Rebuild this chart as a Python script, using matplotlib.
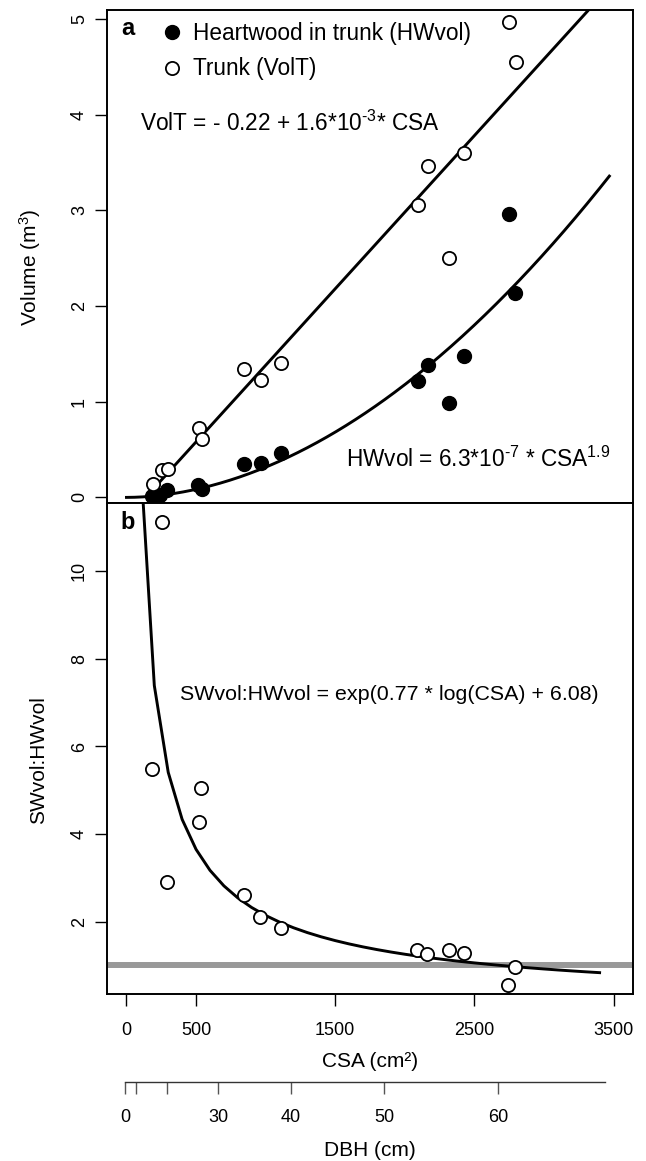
import numpy as np
import matplotlib
matplotlib.use("Agg")
import matplotlib.pyplot as plt

plt.rcParams['font.family'] = ['Liberation Sans', 'DejaVu Sans']
plt.rcParams['mathtext.fontset'] = 'custom'
plt.rcParams['mathtext.rm'] = 'Liberation Sans'
plt.rcParams['mathtext.it'] = 'Liberation Sans:italic'
plt.rcParams['mathtext.bf'] = 'Liberation Sans:bold'

# ---------------- data ----------------
csa_trunk = [189, 254, 301, 521, 540, 844, 966, 1114, 2093, 2165, 2320, 2428, 2746, 2799]
vol_trunk = [0.14, 0.29, 0.30, 0.72, 0.61, 1.34, 1.23, 1.40, 3.06, 3.46, 2.50, 3.60, 4.97, 4.55]

csa_hw = [182, 242, 289, 514, 540, 844, 966, 1114, 2093, 2165, 2320, 2428, 2746, 2794]
vol_hw = [0.015, 0.025, 0.077, 0.13, 0.09, 0.35, 0.36, 0.46, 1.22, 1.38, 0.99, 1.48, 2.96, 2.14]

csa_ratio = [186, 254, 290, 535, 522, 841, 961, 1108, 2086, 2161, 2318, 2423, 2742, 2794]
sw_hw_ratio = [5.48, 11.13, 2.90, 5.04, 4.28, 2.61, 2.11, 1.85, 1.35, 1.26, 1.35, 1.28, 0.55, 0.97]

# fitted models
volt_a, volt_b = -0.22, 1.6e-3
hw_a, hw_b = 6.3e-7, 1.9
ratio_slope, ratio_int = -0.77, 6.08
ratio_ref = 1.0

vol_ticks = [0, 1, 2, 3, 4, 5]
ratio_ticks = [2, 4, 6, 8, 10]
csa_ticks = [0, 500, 1500, 2500, 3500]
dbh_ticks = [0, 10, 20, 30, 40, 50, 60]
dbh_labels = ['0', '', '', '30', '40', '50', '60']
dbh_max = 68
csa_per_dbh2, csa_offset = 0.745, -9.3   # DBH -> CSA position on the secondary scale

# ---------------- layout ----------------
W, H = 646, 1161
fig = plt.figure(figsize=(W / 100, H / 100), dpi=100)


def rect(l, t, r, b):
    return [l / W, 1 - b / H, (r - l) / W, (b - t) / H]


xlim = (-140, 3640)
axa = fig.add_axes(rect(107, 10, 633, 503))
axb = fig.add_axes(rect(107, 503, 633, 994.3))
axd = fig.add_axes(rect(107, 1062, 633, 1082))

for ax in (axa, axb):
    for s in ax.spines.values():
        s.set_linewidth(1.4)
    ax.set_xlim(*xlim)

# ---------------- panel a ----------------
axa.set_ylim(-0.0585, 5.093)
axa.set_xticks([])
axa.set_yticks(vol_ticks)
axa.set_yticklabels([str(v) for v in vol_ticks])
axa.tick_params(axis='y', direction='out', length=8.6, width=1.0, labelsize=13, pad=5)
for lbl in axa.get_yticklabels():
    lbl.set_rotation(90)
    lbl.set_va('center')

xs = np.linspace(min(csa_trunk), 3500, 100)
axa.plot(xs, volt_a + volt_b * xs, color='black', lw=2.1, zorder=2)
xh = np.linspace(0, 3470, 300)
axa.plot(xh, hw_a * xh ** hw_b, color='black', lw=2.1, zorder=2)

h_hw, = axa.plot(csa_hw, vol_hw, 'o', ls='none', mfc='black', mec='black', ms=10, mew=1.0,
                 zorder=3, label='Heartwood in trunk (HWvol)')
h_tr, = axa.plot(csa_trunk, vol_trunk, 'o', ls='none', mfc='white', mec='black', ms=9.5, mew=1.3,
                 zorder=4, label='Trunk (VolT)')

axa.legend(handles=[h_hw, h_tr], loc='upper left', bbox_to_anchor=(0.1015, 0.9757),
           frameon=False, fontsize=16.3, handlelength=1.0, handletextpad=0.45,
           labelspacing=0.55, borderpad=0, borderaxespad=0)

axa.text(99, 3.83, r'VolT = - 0.22 + 1.6*10$^{\text{-3}}$* CSA', fontsize=16.3,
         ha='left', va='baseline')
axa.text(1580, 0.32, r'HWvol = 6.3*10$^{\text{-7}}$ * CSA$^{1.9}$', fontsize=16.3,
         ha='left', va='baseline')
axa.text(0.039, 0.9615, 'a', transform=axa.transAxes, fontsize=17, fontweight='bold',
         ha='center', va='center')

axa.set_ylabel('Volume (m$^3$)', fontsize=15)
axa.yaxis.set_label_coords(-0.121, 0.478)

# ---------------- panel b ----------------
axb.set_ylim(0.34, 11.56)
axb.set_yticks(ratio_ticks)
axb.set_yticklabels([str(v) for v in ratio_ticks])
axb.set_xticks(csa_ticks)
axb.set_xticklabels([str(v) for v in csa_ticks])
axb.tick_params(axis='y', direction='out', length=8.6, width=1.0, labelsize=13, pad=5)
axb.tick_params(axis='x', direction='out', length=8.6, width=1.0, labelsize=13, pad=11.5)
for lbl in axb.get_yticklabels():
    lbl.set_rotation(90)
    lbl.set_va('center')

axb.axhline(ratio_ref, color='#999999', lw=4.3, zorder=1)
xr = np.arange(100, 3500, 100)
axb.plot(xr, np.exp(ratio_slope * np.log(xr) + ratio_int), color='black', lw=2.1, zorder=2)
axb.plot(csa_ratio, sw_hw_ratio, 'o', ls='none', mfc='white', mec='black', ms=9.5, mew=1.3, zorder=3)

axb.text(385, 7.05, 'SWvol:HWvol = exp(0.77 * log(CSA) + 6.08)', fontsize=15.4,
         ha='left', va='baseline')
axb.text(0.040, 0.9593, 'b', transform=axb.transAxes, fontsize=17, fontweight='bold',
         ha='center', va='center')

axb.set_ylabel('SWvol:HWvol', fontsize=15)
axb.yaxis.set_label_coords(-0.113, 0.476)
axb.set_xlabel('CSA (cm²)', fontsize=15)
axb.xaxis.set_label_coords(0.5, -0.1165)

# ---------------- DBH secondary axis ----------------
def dbh_pos(d):
    return csa_offset + csa_per_dbh2 * np.asarray(d, dtype=float) ** 2


axd.set_xlim(*xlim)
axd.patch.set_visible(False)
for side in ('top', 'left', 'right'):
    axd.spines[side].set_visible(False)
axd.spines['bottom'].set_color('#333333')
axd.spines['bottom'].set_linewidth(1.0)
axd.spines['bottom'].set_bounds(dbh_pos(0), dbh_pos(dbh_max))
axd.set_yticks([])
axd.set_xticks(dbh_pos(dbh_ticks))
axd.set_xticklabels(dbh_labels)
axd.tick_params(axis='x', direction='out', length=8.6, width=1.0, color='#555555',
                labelsize=13, pad=11)
axd.set_xlabel('DBH (cm)', fontsize=15)
axd.xaxis.set_label_coords(0.5, -2.93)

fig.savefig('out.png', dpi=100)
